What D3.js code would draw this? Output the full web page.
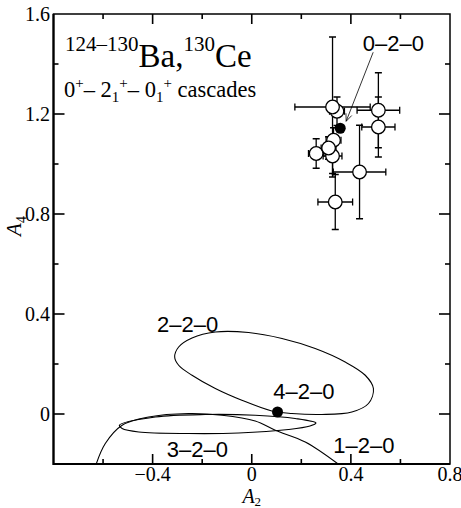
<!DOCTYPE html>
<html>
<head>
<meta charset="utf-8">
<script src="https://cdn.jsdelivr.net/npm/d3@7/dist/d3.min.js"></script>
<style>
  html, body { margin: 0; padding: 0; background: #fff; }
  svg { display: block; }
  .serif { font-family: 'Liberation Serif', 'Times New Roman', serif; fill: #000; }
  .tick-label { font-size: 20px; }
  .curve-label { font-family: 'Liberation Sans', Arial, sans-serif; font-size: 22px; fill: #000; }
</style>
</head>
<body>
<div id="chart"></div>
<script>
// Measured points (A2, A4) with their errors
const pointA2 = [0.344, 0.326, 0.511, 0.511, 0.435, 0.337, 0.330, 0.326, 0.260, 0.310];
const pointA4 = [1.211, 1.228, 1.215, 1.148, 0.968, 0.848, 1.095, 1.032, 1.042, 1.064];
const errA2 = [0.030, 0.152, 0.086, 0.067, 0.106, 0.070, 0.030, 0.038, 0.031, 0.030];
const errA4 = [0.057, 0.280, 0.150, 0.120, 0.187, 0.110, 0.050, 0.070, 0.059, 0.045];

// Theoretical pure cascades (filled dots)
const dotNames = ['0–2–0', '4–2–0'];
const dotA2 = [0.357, 0.104];
const dotA4 = [1.143, 0.008];

// Mixed cascades
const curve220A2 = [-0.311, -0.295, -0.241, -0.147, -0.013, 0.122, 0.256, 0.377, 0.458, 0.491, 0.471, 0.404, 0.283, 0.162, 0.081, -0.040, -0.147, -0.241, -0.295];
const curve220A4 = [0.228, 0.268, 0.304, 0.328, 0.326, 0.302, 0.262, 0.208, 0.155, 0.102, 0.042, 0.008, -0.002, 0.002, 0.012, 0.055, 0.102, 0.155, 0.195];
const curve320A2 = [-0.534, -0.389, -0.188, 0.014, 0.175, 0.259, 0.235, 0.148, -0.053, -0.255, -0.456, -0.523];
const curve320A4 = [-0.045, -0.012, -0.002, -0.005, -0.018, -0.036, -0.048, -0.062, -0.076, -0.078, -0.072, -0.058];
const curve120A2 = [-0.628, -0.591, -0.523, -0.416, -0.255, -0.120, 0.014, 0.095, 0.216, 0.350];
const curve120A4 = [-0.201, -0.118, -0.045, -0.012, 0.002, -0.005, -0.028, -0.065, -0.112, -0.201];

// Curve labels: text, left edge and baseline in data units
const labelText = ['0–2–0', '2–2–0', '4–2–0', '3–2–0', '1–2–0'];
const labelA2 = [0.448, -0.382, 0.087, -0.343, 0.329];
const labelA4 = [1.452, 0.328, 0.060, -0.171, -0.156];

// Axis ticks
const xTicks = [-0.6, -0.4, -0.2, 0, 0.2, 0.4, 0.6];
const xMajor = [-0.4, 0, 0.4];
const xLabels = [-0.4, 0, 0.4, 0.8];
const yTicks = [0.2, 0.4, 0.6, 0.8, 1.0, 1.2, 1.4, 0];
const yMajor = [0, 0.4, 0.8, 1.2];
const yLabels = [0, 0.4, 0.8, 1.2, 1.6];

const width = 461, height = 508;

const svg = d3.select('#chart').append('svg')
  .attr('width', width)
  .attr('height', height);

const x = d3.scaleLinear().domain([-0.8, 0.8]).range([53.5, 450]);
const y = d3.scaleLinear().domain([-0.2, 1.6]).range([464, 14]);

const fmt = v => v === 0 ? '0' : d3.format('.1f')(v);

svg.append('clipPath').attr('id', 'plot-clip')
  .append('rect')
  .attr('x', x(-0.8)).attr('y', y(1.6))
  .attr('width', x(0.8) - x(-0.8)).attr('height', y(-0.2) - y(1.6));

// Ticks (inward on all four sides)
const tickG = svg.append('g').attr('stroke', '#000').attr('stroke-width', 1.6);
xTicks.forEach(t => {
  const len = xMajor.includes(t) ? 10 : 5;
  tickG.append('line').attr('x1', x(t)).attr('x2', x(t)).attr('y1', y(-0.2)).attr('y2', y(-0.2) - len);
  tickG.append('line').attr('x1', x(t)).attr('x2', x(t)).attr('y1', y(1.6)).attr('y2', y(1.6) + len);
});
yTicks.forEach(t => {
  const len = yMajor.includes(t) ? 11 : 5;
  tickG.append('line').attr('x1', x(-0.8)).attr('x2', x(-0.8) + len).attr('y1', y(t)).attr('y2', y(t));
  tickG.append('line').attr('x1', x(0.8)).attr('x2', x(0.8) - len).attr('y1', y(t)).attr('y2', y(t));
});

// Frame
svg.append('rect')
  .attr('x', x(-0.8)).attr('y', y(1.6))
  .attr('width', x(0.8) - x(-0.8)).attr('height', y(-0.2) - y(1.6))
  .attr('fill', 'none').attr('stroke', '#000').attr('stroke-width', 1.5);
svg.append('path')
  .attr('d', `M${x(-0.8)},${y(1.6)}V${y(-0.2)}H${x(0.8)}`)
  .attr('fill', 'none').attr('stroke', '#000').attr('stroke-width', 2.2);

// Tick labels
svg.selectAll('.xlab').data(xLabels).enter().append('text')
  .attr('class', 'serif tick-label')
  .attr('x', d => x(d)).attr('y', 481)
  .attr('text-anchor', 'middle')
  .text(fmt);
svg.selectAll('.ylab').data(yLabels).enter().append('text')
  .attr('class', 'serif tick-label')
  .attr('x', 50).attr('y', d => y(d) + 7)
  .attr('text-anchor', 'end')
  .text(fmt);

// Axis titles
const xt = svg.append('text').attr('class', 'serif').attr('x', x(0)).attr('y', 503)
  .attr('text-anchor', 'middle').attr('font-size', 20);
xt.append('tspan').attr('font-style', 'italic').text('A');
xt.append('tspan').attr('font-size', 13).attr('dy', 3).text('2');

const yt = svg.append('text').attr('class', 'serif')
  .attr('transform', 'translate(21,226) rotate(-90)')
  .attr('text-anchor', 'middle').attr('font-size', 21);
yt.append('tspan').attr('font-style', 'italic').text('A');
yt.append('tspan').attr('font-size', 14).attr('dy', 5).text('4');

// Curves
const plot = svg.append('g').attr('clip-path', 'url(#plot-clip)');
const closedLine = d3.line().x(d => x(d[0])).y(d => y(d[1])).curve(d3.curveCatmullRomClosed);
const openLine = d3.line().x(d => x(d[0])).y(d => y(d[1])).curve(d3.curveCatmullRom);

plot.append('path').datum(d3.zip(curve220A2, curve220A4))
  .attr('d', closedLine).attr('fill', 'none').attr('stroke', '#000').attr('stroke-width', 1.1);
plot.append('path').datum(d3.zip(curve320A2, curve320A4))
  .attr('d', closedLine).attr('fill', 'none').attr('stroke', '#000').attr('stroke-width', 1.1);
plot.append('path').datum(d3.zip(curve120A2, curve120A4))
  .attr('d', openLine).attr('fill', 'none').attr('stroke', '#000').attr('stroke-width', 1.1);

// Error bars first, circles on top
const points = pointA2.map((a2, i) => ({ a2, a4: pointA4[i], e2: errA2[i], e4: errA4[i] }));
const cap = 3.5;
const bars = plot.append('g').attr('stroke', '#000').attr('stroke-width', 1.3);
points.forEach(p => {
  const cx = x(p.a2), cy = y(p.a4);
  const xl = x(p.a2 - p.e2), xr = x(p.a2 + p.e2);
  const yt2 = y(p.a4 + p.e4), yb = y(p.a4 - p.e4);
  bars.append('line').attr('x1', xl).attr('x2', xr).attr('y1', cy).attr('y2', cy);
  bars.append('line').attr('x1', cx).attr('x2', cx).attr('y1', yt2).attr('y2', yb);
  bars.append('line').attr('x1', xl).attr('x2', xl).attr('y1', cy - cap).attr('y2', cy + cap);
  bars.append('line').attr('x1', xr).attr('x2', xr).attr('y1', cy - cap).attr('y2', cy + cap);
  bars.append('line').attr('x1', cx - cap).attr('x2', cx + cap).attr('y1', yt2).attr('y2', yt2);
  bars.append('line').attr('x1', cx - cap).attr('x2', cx + cap).attr('y1', yb).attr('y2', yb);
});

plot.selectAll('.pt').data(points).enter().append('circle')
  .attr('cx', d => x(d.a2)).attr('cy', d => y(d.a4)).attr('r', 6.8)
  .attr('fill', '#fff').attr('stroke', '#000').attr('stroke-width', 1.3);

// Filled theory dots
plot.selectAll('.dot').data(dotA2).enter().append('circle')
  .attr('cx', d => x(d)).attr('cy', (d, i) => y(dotA4[i])).attr('r', 5.5)
  .attr('fill', '#000');

// Labels
svg.selectAll('.clab').data(labelText).enter().append('text')
  .attr('class', 'curve-label')
  .attr('x', (d, i) => x(labelA2[i])).attr('y', (d, i) => y(labelA4[i]))
  .text(d => d);

// Arrow from the 0-2-0 label to its dot
const ax1 = x(0.49), ay1 = y(1.447), ax2 = x(0.381), ay2 = y(1.171);
const ang = Math.atan2(ay2 - ay1, ax2 - ax1);
const arrow = svg.append('g').attr('stroke', '#000').attr('stroke-width', 0.8).attr('fill', 'none');
arrow.append('line').attr('x1', ax1).attr('y1', ay1).attr('x2', ax2).attr('y2', ay2);
[-0.4, 0.4].forEach(da => {
  arrow.append('line')
    .attr('x1', ax2).attr('y1', ay2)
    .attr('x2', ax2 - 8 * Math.cos(ang + da)).attr('y2', ay2 - 8 * Math.sin(ang + da));
});

// Title
const t1 = svg.append('text').attr('class', 'serif').attr('x', 65).attr('y', 67);
t1.append('tspan').attr('font-size', 21).attr('dy', -16).text('124–130');
t1.append('tspan').attr('font-size', 33).attr('dy', 16).text('Ba,');
t1.append('tspan').attr('font-size', 21).attr('dy', -16).text('130');
t1.append('tspan').attr('font-size', 33).attr('dy', 16).text('Ce');

const t2 = svg.append('text').attr('class', 'serif').attr('x', 64).attr('y', 97).attr('font-size', 22.5);
t2.append('tspan').text('0');
t2.append('tspan').attr('font-size', 15).attr('dy', -9).text('+');
t2.append('tspan').attr('dy', 9).text('– 2');
t2.append('tspan').attr('font-size', 15).attr('dy', 5).text('1');
t2.append('tspan').attr('font-size', 15).attr('dy', -14).text('+');
t2.append('tspan').attr('dy', 9).text('– 0');
t2.append('tspan').attr('font-size', 15).attr('dy', 5).text('1');
t2.append('tspan').attr('font-size', 15).attr('dy', -14).text('+');
t2.append('tspan').attr('dy', 9).text(' cascades');
</script>
</body>
</html>
